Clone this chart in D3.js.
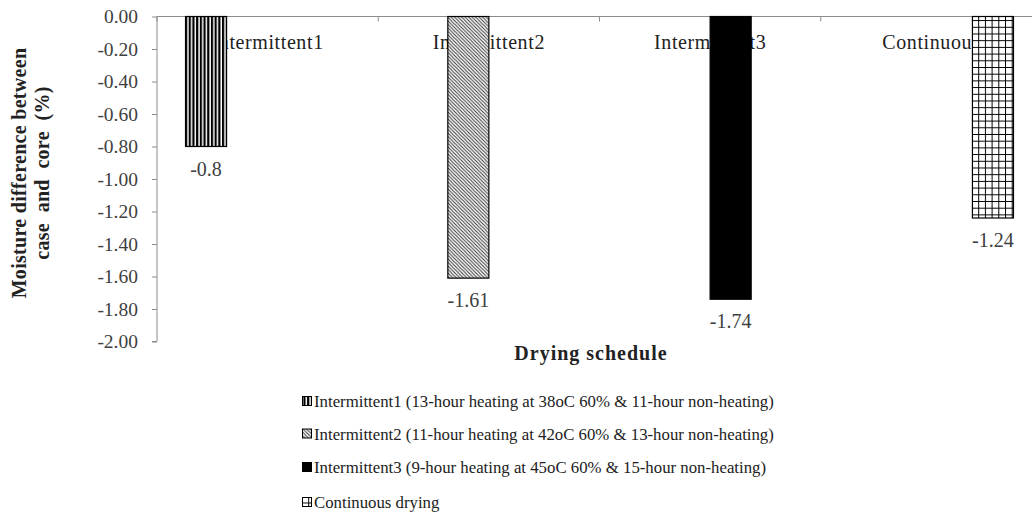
<!DOCTYPE html>
<html>
<head>
<meta charset="utf-8">
<script src="https://cdn.jsdelivr.net/npm/d3@7"></script>
<style>
  html, body { margin: 0; padding: 0; background: #fff; }
  svg { display: block; font-family: "Liberation Serif", "DejaVu Serif", serif; }
</style>
</head>
<body>
<svg id="chart" width="1032" height="520"></svg>
<script>
// ---- data ----
const categories = ["Intermittent1", "Intermittent2", "Intermittent3", "Continuous"];
const seriesNames = [
  "Intermittent1 (13-hour heating at 38oC 60% & 11-hour non-heating)",
  "Intermittent2 (11-hour heating at 42oC 60% & 13-hour non-heating)",
  "Intermittent3 (9-hour heating at 45oC 60% & 15-hour non-heating)",
  "Continuous drying"
];
const seriesKeys = ["s1", "s2", "s3", "s4"];
// one value per series, each in its own category
const values = [-0.8, -1.61, -1.74, -1.24];
const valueLabels = ["-0.8", "-1.61", "-1.74", "-1.24"];
const yTicks = [0, -0.2, -0.4, -0.6, -0.8, -1.0, -1.2, -1.4, -1.6, -1.8, -2.0];
const yTitle = ["Moisture difference between", "case  and  core  (%)"];
const xTitle = "Drying schedule";

// ---- layout ----
const svg = d3.select("#chart");
const pLeft = 157, pRight = 1042, pTop = 16.5, pBottom = 341.5;
const fill = ["url(#pVert)", "url(#pDiag)", "#000", "url(#pGrid)"];
const serif = "Liberation Serif, DejaVu Serif, serif";

const defs = svg.append("defs");
// vertical stripes
const pv = defs.append("pattern").attr("id", "pVert").attr("patternUnits", "userSpaceOnUse")
  .attr("width", 3.7).attr("height", 4);
pv.append("rect").attr("width", 3.7).attr("height", 4).attr("fill", "#fff");
pv.append("rect").attr("width", 2.2).attr("height", 4).attr("fill", "#000");
// diagonal (down-right)
const pd = defs.append("pattern").attr("id", "pDiag").attr("patternUnits", "userSpaceOnUse")
  .attr("width", 3.5).attr("height", 3.5);
pd.append("rect").attr("width", 3.5).attr("height", 3.5).attr("fill", "#fff");
pd.append("path").attr("d", "M-1,-1L4.5,4.5M-1,2.5L1,4.5M2.5,-1L4.5,1")
  .attr("stroke", "#333").attr("stroke-width", 1);
// grid
const pg = defs.append("pattern").attr("id", "pGrid").attr("patternUnits", "userSpaceOnUse")
  .attr("width", 6.7).attr("height", 6.7);
pg.append("rect").attr("width", 6.7).attr("height", 6.7).attr("fill", "#fff");
pg.append("path").attr("d", "M0.5,0V6.7M0,0.5H6.7").attr("stroke", "#000").attr("stroke-width", 1);

const x = d3.scaleBand().domain(categories).range([pLeft, pRight]).paddingInner(0).paddingOuter(0);
const xs = d3.scaleBand().domain(seriesKeys).range([0, x.bandwidth()]).paddingInner(0).paddingOuter(0.695);
const y = d3.scaleLinear().domain([-2, 0]).range([pBottom, pTop]);

// y axis
const yAxis = svg.append("g").attr("transform", `translate(${pLeft},0)`)
  .call(d3.axisLeft(y).tickValues(yTicks).tickSize(5).tickPadding(14).tickFormat(d3.format(".2f")));
yAxis.attr("font-family", serif).attr("font-size", 19.5);
yAxis.select(".domain").attr("stroke", "#8c8c8c").attr("d", `M-5,${pBottom}H0V${pTop}`);
yAxis.selectAll(".tick line").attr("stroke", "#8c8c8c");
yAxis.selectAll(".tick text").attr("font-size", 19.5).attr("fill", "#404040")
  .text(d => d3.format(".2f")(d).replace("\u2212", "-"));

// x axis (at zero, top)
const xAxis = svg.append("g").attr("transform", `translate(0,${y(0)})`)
  .call(d3.axisBottom(x).tickSize(0).tickFormat(""));
xAxis.select(".domain").attr("stroke", "#8c8c8c").attr("d", `M${pLeft},0H${pRight}`);
xAxis.selectAll(".tick").remove();
const xBoundaries = categories.map(c => x(c)).concat([pRight]);
xAxis.selectAll("line.cb").data(xBoundaries).enter().append("line").attr("class", "cb")
  .attr("x1", d => d).attr("x2", d => d).attr("y1", 0).attr("y2", 5).attr("stroke", "#8c8c8c");

// category labels (under bars)
svg.append("g").selectAll("text").data(categories).enter().append("text")
  .attr("x", d => x(d) + x.bandwidth() / 2).attr("y", 49)
  .attr("text-anchor", "middle").attr("font-size", 20).attr("letter-spacing", 0.6)
  .attr("fill", "#222").text(d => d);

// bars
const bars = svg.append("g");
values.forEach((v, i) => {
  const cx = x(categories[i]) + xs(seriesKeys[i]);
  bars.append("rect")
    .attr("x", cx).attr("width", xs.bandwidth())
    .attr("y", y(0)).attr("height", y(v) - y(0))
    .attr("fill", fill[i]).attr("stroke", "#000").attr("stroke-width", 1.2);
  bars.append("text")
    .attr("x", cx + xs.bandwidth() / 2).attr("y", y(v) + 29)
    .attr("text-anchor", "middle").attr("font-size", 20).attr("fill", "#404040")
    .text(valueLabels[i]);
});

// axis titles
const yt = svg.append("text").attr("transform", `translate(26,173) rotate(-90)`)
  .attr("text-anchor", "middle").attr("font-size", 20).attr("font-weight", "bold")
  .attr("letter-spacing", 0.3).attr("fill", "#222");
yt.append("tspan").attr("x", 0).attr("dy", 0).text(yTitle[0]);
yt.append("tspan").attr("x", 0).attr("dy", 23).style("white-space", "pre").text(yTitle[1]);

svg.append("text").attr("x", 591).attr("y", 360).attr("text-anchor", "middle")
  .attr("font-size", 20).attr("font-weight", "bold").attr("letter-spacing", 1)
  .attr("fill", "#222").text(xTitle);

// legend
const legend = svg.append("g");
const legY = [401, 433.5, 467, 502];
seriesNames.forEach((n, i) => {
  legend.append("rect").attr("x", 302.5).attr("y", legY[i] - 4.5).attr("width", 9).attr("height", 9)
    .attr("fill", fill[i]).attr("stroke", "#000").attr("stroke-width", 1);
  legend.append("text").attr("x", 314).attr("y", legY[i] + 6).attr("font-size", 16.8)
    .attr("fill", "#222").text(n);
});
</script>
</body>
</html>
